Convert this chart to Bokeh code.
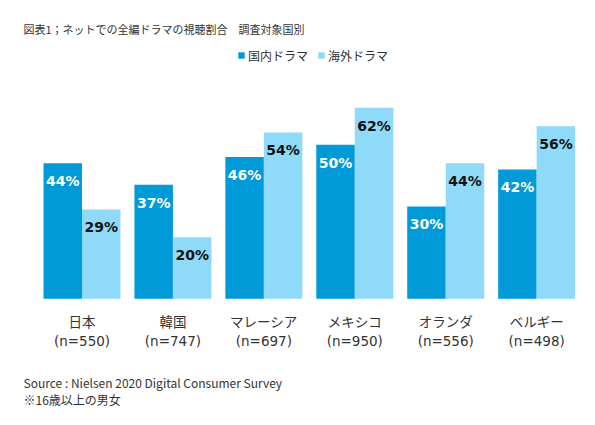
from bokeh.plotting import figure
from bokeh.models import ColumnDataSource, FactorRange, Range1d, Legend, LegendItem, Label
from bokeh.transform import dodge
from bokeh.core.properties import value
from bokeh.embed import file_html
from bokeh.resources import INLINE

# ---- data ----
countries = ["日本", "韓国", "マレーシア", "メキシコ", "オランダ", "ベルギー"]
sample_sizes = ["(n=550)", "(n=747)", "(n=697)", "(n=950)", "(n=556)", "(n=498)"]
domestic = [44, 37, 46, 50, 30, 42]
foreign = [29, 20, 54, 62, 44, 56]
series_names = ["国内ドラマ", "海外ドラマ"]
title_text = "図表1；ネットでの全編ドラマの視聴割合　調査対象国別"
source_text = "Source : Nielsen 2020 Digital Consumer Survey"
note_text = "※16歳以上の男女"

# ---- style ----
DARK = "#009ad9"
LIGHT = "#8fd9f9"
W, H = 595, 425
LATIN_JP = "DejaVu Sans, Noto Sans CJK JP, sans-serif"
UI_JP = "Noto Sans CJK JP, sans-serif"

src = ColumnDataSource(dict(
    country=countries,
    n=sample_sizes,
    domestic=domestic,
    foreign=foreign,
    dom_lbl=[f"{v}%" for v in domestic],
    for_lbl=[f"{v}%" for v in foreign],
))

x_range = FactorRange(*countries, range_padding=0.2717, range_padding_units="absolute")
p = figure(width=W, height=H, x_range=x_range, y_range=Range1d(-41.14, 96.85),
           output_backend="svg", toolbar_location=None,
           x_axis_location=None, y_axis_location=None, min_border=0)
p.grid.visible = False
p.outline_line_color = None
p.background_fill_color = "white"
p.border_fill_color = "white"

bw = 0.4235
shift = 0.1246
xd = dodge("country", shift - bw / 2, range=p.x_range)
xf = dodge("country", shift + bw / 2, range=p.x_range)
xc = dodge("country", shift, range=p.x_range)

r1 = p.vbar(x=xd, top="domestic", width=bw, fill_color=DARK, line_color=None, source=src)
r2 = p.vbar(x=xf, top="foreign", width=bw, fill_color=LIGHT, line_color=None, source=src)

p.text(x=xd, y="domestic", text="dom_lbl", source=src, text_align="center",
       text_baseline="middle", y_offset=18, text_color="white",
       text_font=value("DejaVu Sans"), text_font_style="bold", text_font_size="14px")
p.text(x=xf, y="foreign", text="for_lbl", source=src, text_align="center",
       text_baseline="middle", y_offset=18, text_color="#111111",
       text_font=value("DejaVu Sans"), text_font_style="bold", text_font_size="14px")

p.text(x=xc, y=0, text="country", source=src, text_align="center",
       text_baseline="middle", y_offset=23.5, text_color="#333333",
       text_font=value(LATIN_JP), text_font_size="13.5px")
p.text(x=xc, y=0, text="n", source=src, text_align="center",
       text_baseline="middle", y_offset=42.5, text_color="#333333",
       text_font=value(LATIN_JP), text_font_size="13.5px")

p.add_layout(Label(x=23, y=H - 28, x_units="screen", y_units="screen", text=title_text,
                   text_baseline="middle", text_font=UI_JP, text_font_size="11px",
                   text_color="#333333"))
p.add_layout(Label(x=23, y=H - 382, x_units="screen", y_units="screen", text=source_text,
                   text_baseline="middle", text_font=UI_JP, text_font_size="12px",
                   text_color="#333333"))
p.add_layout(Label(x=23, y=H - 399, x_units="screen", y_units="screen", text=note_text,
                   text_baseline="middle", text_font=UI_JP, text_font_size="12px",
                   text_color="#333333"))

legend = Legend(items=[LegendItem(label=series_names[0], renderers=[r1]),
                       LegendItem(label=series_names[1], renderers=[r2])],
                orientation="horizontal", location=(237, H - 63.5),
                glyph_width=8, glyph_height=8, label_standoff=3, spacing=9,
                padding=0, margin=0, border_line_color=None, background_fill_alpha=0,
                label_text_font=UI_JP, label_text_font_size="12px",
                label_text_color="#333333", label_height=15)
p.add_layout(legend)

open("out.html", "w").write(file_html(p, INLINE))
